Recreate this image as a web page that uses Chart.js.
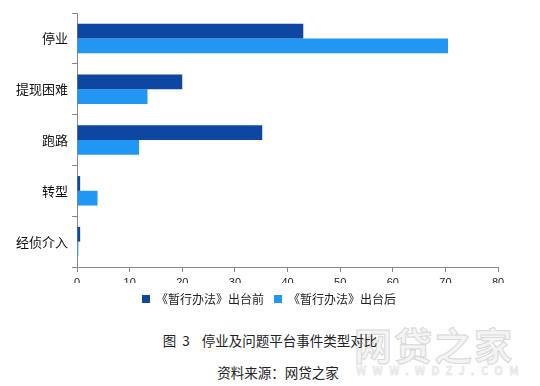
<!DOCTYPE html>
<html>
<head>
<meta charset="utf-8">
<script src="https://cdn.jsdelivr.net/npm/chart.js@4/dist/chart.umd.min.js"></script>
<style>
  body { margin: 0; background: #fff; font-family: "Noto Sans CJK SC", sans-serif; }
  #wrap { position: relative; width: 540px; height: 386px; overflow: hidden; }
  #box { position: absolute; left: 0; top: 0; width: 540px; height: 316px; }
  .cap { position: absolute; left: 0; width: 540px; text-align: center; font-size: 13.5px; color: #222; }
  .wm { position: absolute; color: #f4f4f4; -webkit-text-stroke: 1px #d8d8d8; font-weight: bold; }
</style>
</head>
<body>
<div id="wrap">
  <div class="wm" style="left:354px; top:316px; font-size:38px; letter-spacing:2px;">网贷之家</div>
  <div class="wm" style="left:356px; top:362px; font-size:11px; letter-spacing:6.5px; -webkit-text-stroke:0.5px #dedede;">WWW.WDZJ.COM</div>
  <div id="box"><canvas id="barChart"></canvas></div>
  <div class="cap" style="top:330px; white-space:pre;">图  3    停业及问题平台事件类型对比</div>
  <div class="cap" style="top:362px; left:8px;">资料来源：网贷之家</div>
</div>
<script>
const categories = ["停业", "提现困难", "跑路", "转型", "经侦介入"];
const seriesNames = ["《暂行办法》出台前", "《暂行办法》出台后"];
const beforeValues = [43, 20, 35.2, 0.6, 0.6];
const afterValues = [70.5, 13.4, 11.8, 3.9, 0.25];
const xTicks = [0, 10, 20, 30, 40, 50, 60, 70, 80];

const ctx = document.getElementById('barChart').getContext('2d');

// nudge the legend a bit to the right, like the original
const legendShift = {
    id: 'legendShift',
    afterLayout(chart) {
        chart.legend.left += 40;
    }
};

new Chart(ctx, {
    type: 'bar',
    data: {
        labels: categories,
        datasets: [
            { label: seriesNames[0], data: beforeValues, backgroundColor: '#0D47A1' },
            { label: seriesNames[1], data: afterValues, backgroundColor: '#2196F3' }
        ]
    },
    options: {
        indexAxis: 'y',
        responsive: true,
        maintainAspectRatio: false,
        animation: false,
        layout: { padding: { top: 13, right: 42, bottom: 1, left: 0 } },
        datasets: { bar: { categoryPercentage: 0.58, barPercentage: 1 } },
        scales: {
            x: {
                min: 0,
                max: 80,
                afterBuildTicks: s => { s.ticks = xTicks.map(v => ({ value: v })); },
                afterFit: s => { s.height = 16; },
                border: { color: '#888', width: 1 },
                grid: { drawOnChartArea: false, drawTicks: true, tickLength: 5, color: '#888' },
                ticks: { color: '#222', font: { size: 11, family: 'Liberation Sans, sans-serif' }, padding: 4, maxRotation: 0 }
            },
            y: {
                afterFit: s => { s.width = 77; },
                border: { color: '#888', width: 1 },
                grid: { drawOnChartArea: false, drawTicks: true, tickLength: 5, color: '#888' },
                ticks: { color: '#111', font: { size: 13, family: 'Noto Sans CJK SC' }, padding: 4 }
            }
        },
        plugins: {
            tooltip: { enabled: false },
            legend: {
                position: 'bottom',
                labels: {
                    boxWidth: 8,
                    boxHeight: 8,
                    padding: 10,
                    color: '#222',
                    font: { size: 12, family: 'Noto Sans CJK SC' }
                }
            }
        }
    },
    plugins: [legendShift]
});
</script>
</body>
</html>
